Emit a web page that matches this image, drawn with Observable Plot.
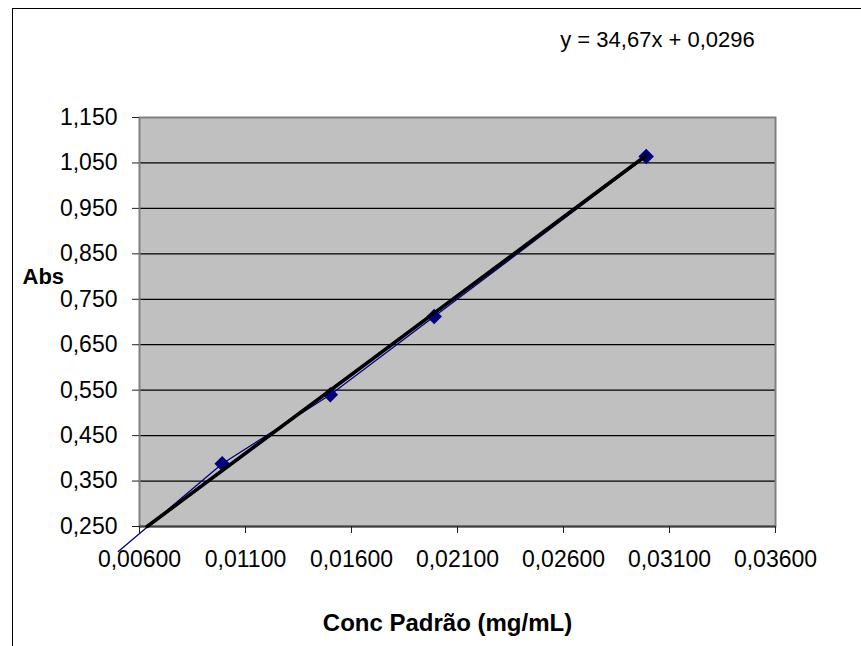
<!DOCTYPE html>
<html>
<head>
<meta charset="utf-8">
<script src="https://cdn.jsdelivr.net/npm/d3@7"></script>
<script src="https://cdn.jsdelivr.net/npm/@observablehq/plot@0.6"></script>
<style>
  html, body { margin: 0; padding: 0; background: white; }
  #wrap { position: relative; width: 861px; height: 646px; overflow: hidden; }
  #border { position: absolute; left: 12px; top: 8px; width: 1000px; height: 1000px; border: 1px solid black; box-sizing: border-box; }
  #chart { position: absolute; left: 0; top: 0; }
</style>
</head>
<body>
<div id="wrap"><div id="border"></div><div id="chart"></div></div>
<script>
// Data
const conc = [0.0050, 0.0099, 0.0150, 0.0199, 0.0299];       // mg/mL
const absorb = [0.195, 0.388, 0.540, 0.712, 1.064];          // Abs
const xTicks = [0.006, 0.011, 0.016, 0.021, 0.026, 0.031, 0.036];
const yTicks = [0.25, 0.35, 0.45, 0.55, 0.65, 0.75, 0.85, 0.95, 1.05, 1.15];
const slope = 34.67, intercept = 0.0296;
const trendX = [0.00636, 0.0299];
const equationLabel = "y = 34,67x + 0,0296";
const xTitle = "Conc Padrão (mg/mL)";
const yTitle = "Abs";

const points = conc.map((c, i) => ({x: c, y: absorb[i]}));
const visible = points.filter(d => d.x >= 0.006 && d.y >= 0.25);
const trend = trendX.map(x => ({x, y: slope * x + intercept}));
const fmtX = v => d3.format(".5f")(v).replace(".", ",");
const fmtY = v => d3.format(".3f")(v).replace(".", ",");

const chart = Plot.plot({
  width: 861,
  height: 646,
  marginLeft: 139,
  marginRight: 86,
  marginTop: 117,
  marginBottom: 120,
  x: {domain: [0.006, 0.036]},
  y: {domain: [0.25, 1.15]},
  style: {fontFamily: "'Liberation Sans', Arial, sans-serif", fontSize: "23px", color: "black", background: "transparent", overflow: "visible"},
  marks: [
    Plot.frame({fill: "#C0C0C0", stroke: null}),
    Plot.ruleY(yTicks.slice(1, -1), {stroke: "black", strokeWidth: 1.2}),
    Plot.frame({stroke: "#808080", strokeWidth: 2, fill: null}),
    Plot.ruleY([0.25], {stroke: "#404040", strokeWidth: 2}),
    Plot.axisX({ticks: xTicks, tickFormat: fmtX, tickSize: 7, tickPadding: 17, label: null, fontSize: 23, stroke: "#202020"}),
    Plot.axisY({ticks: yTicks, tickFormat: fmtY, tickSize: 7, tickPadding: 15, label: null, fontSize: 23, stroke: "#202020"}),
    Plot.line(points, {x: "x", y: "y", stroke: "#000080", strokeWidth: 1.3}),
    Plot.dot(visible, {x: "x", y: "y", symbol: "diamond2", fill: "#000080", stroke: null, r: 7}),
    Plot.line(trend, {x: "x", y: "y", stroke: "black", strokeWidth: 3.6}),
    Plot.text([equationLabel], {frameAnchor: "top", textAnchor: "middle", lineAnchor: "bottom", dx: 200, dy: -71, fontSize: 22}),
    Plot.text([yTitle], {frameAnchor: "left", textAnchor: "start", lineAnchor: "bottom", dx: -117, dy: -38, fontSize: 22, fontWeight: "bold"}),
    Plot.text([xTitle], {frameAnchor: "bottom", textAnchor: "middle", lineAnchor: "bottom", dx: -10, dy: 104, fontSize: 24, fontWeight: "bold"})
  ]
});
document.getElementById("chart").append(chart);
</script>
</body>
</html>
